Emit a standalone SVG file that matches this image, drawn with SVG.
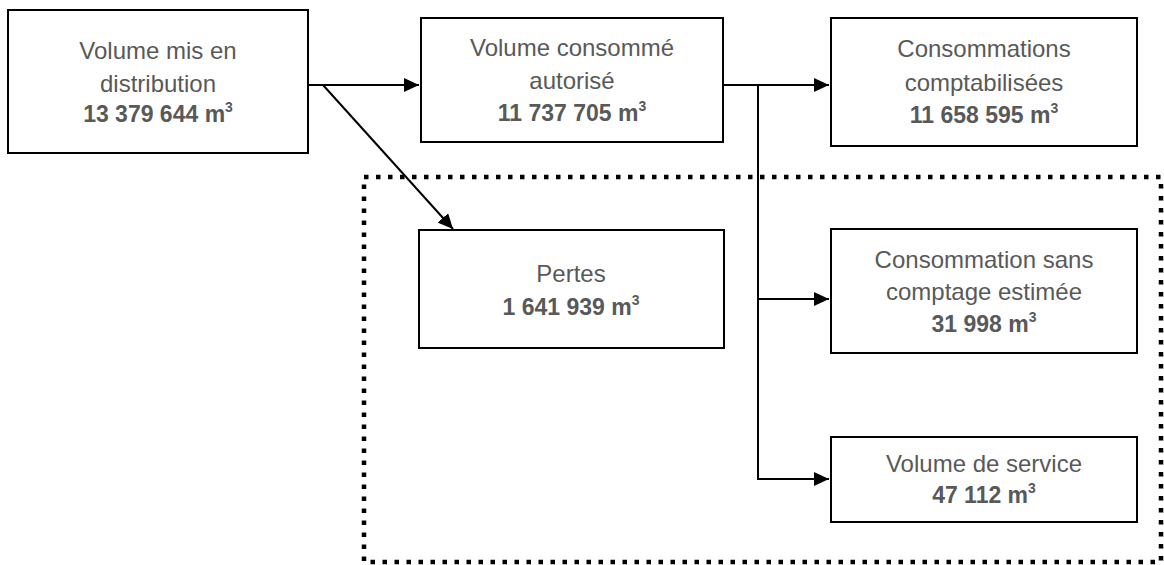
<svg xmlns="http://www.w3.org/2000/svg" width="1164" height="565" viewBox="0 0 1164 565">
<style>
.box{fill:#fff;stroke:#000;stroke-width:2}
.t{font-family:"Liberation Sans",Arial,sans-serif;font-size:24px;fill:#595959;text-anchor:middle}
.b{font-weight:bold;font-size:23px}
.sup{font-size:14px}
.c{fill:none;stroke:#000;stroke-width:2}
.dot{fill:none;stroke:#000;stroke-width:4.5;stroke-dasharray:4.5 7.5}
</style>
<defs>
<marker id="ah" markerUnits="userSpaceOnUse" markerWidth="16" markerHeight="14" refX="15" refY="7" orient="auto">
<path d="M0,0 L15,7 L0,14 Z" fill="#000"/>
</marker>
</defs>
<rect class="dot" x="364" y="177" width="797" height="385"/>
<g id="connectors">
<path class="c" d="M308,85 H419" marker-end="url(#ah)"/>
<path class="c" d="M323,85 L453,229" marker-end="url(#ah)"/>
<path class="c" d="M723,85 H829" marker-end="url(#ah)"/>
<path class="c" d="M758,85 V479 H829" marker-end="url(#ah)"/>
<path class="c" d="M758,299 H829" marker-end="url(#ah)"/>
</g>
<g id="n1">
<rect class="box" x="8" y="10" width="300" height="143"/>
<text class="t" x="158" y="59">Volume mis en</text>
<text class="t" x="158" y="92">distribution</text>
<text class="t b" x="158" y="122">13 379 644 m<tspan class="sup" dy="-10">3</tspan></text>
</g>
<g id="n2">
<rect class="box" x="421" y="18" width="302" height="124"/>
<text class="t" x="572" y="56">Volume consommé</text>
<text class="t" x="572" y="89">autorisé</text>
<text class="t b" x="572" y="121">11 737 705 m<tspan class="sup" dy="-10">3</tspan></text>
</g>
<g id="n3">
<rect class="box" x="831" y="18" width="306" height="128"/>
<text class="t" x="984" y="57">Consommations</text>
<text class="t" x="984" y="91">comptabilisées</text>
<text class="t b" x="984" y="123">11 658 595 m<tspan class="sup" dy="-10">3</tspan></text>
</g>
<g id="n4">
<rect class="box" x="419" y="230" width="305" height="118"/>
<text class="t" x="571" y="282">Pertes</text>
<text class="t b" x="571" y="315">1 641 939 m<tspan class="sup" dy="-10">3</tspan></text>
</g>
<g id="n5">
<rect class="box" x="831" y="229" width="306" height="124"/>
<text class="t" x="984" y="268">Consommation sans</text>
<text class="t" x="984" y="300">comptage estimée</text>
<text class="t b" x="984" y="332">31 998 m<tspan class="sup" dy="-10">3</tspan></text>
</g>
<g id="n6">
<rect class="box" x="831" y="437" width="306" height="85"/>
<text class="t" x="984" y="472">Volume de service</text>
<text class="t b" x="984" y="503">47 112 m<tspan class="sup" dy="-10">3</tspan></text>
</g>
</svg>
